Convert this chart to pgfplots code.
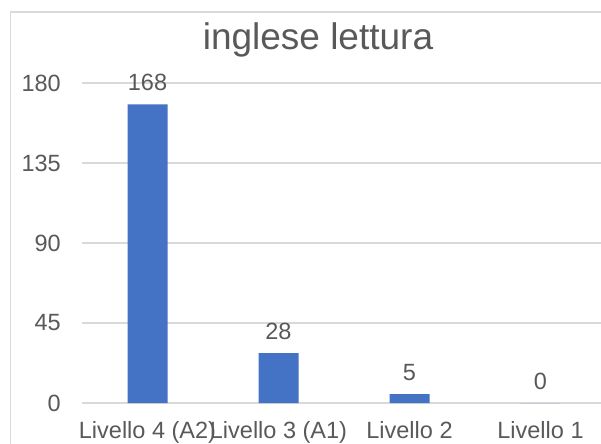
\documentclass[border=0pt]{standalone}
\usepackage{pgfplots}
\pgfplotsset{compat=1.18}
\usepackage{fontspec}
\setmainfont{Liberation Sans}
\definecolor{barblue}{HTML}{4472C4}
\definecolor{txtgray}{HTML}{595959}
\definecolor{gridgray}{HTML}{D9D9D9}
\begin{document}
\begin{tikzpicture}
\useasboundingbox (0bp,0bp) rectangle (601bp,444bp);
\begin{scope}
\clip (0bp,0bp) rectangle (601bp,444bp);
\draw[gridgray, line width=1.5bp] (10.5bp,-20bp) -- (10.5bp,432bp) -- (700bp,432bp);
\begin{axis}[
  at={(82bp,41bp)}, anchor=south west,
  scale only axis, width=524bp, height=320bp,
  xmin=-0.5, xmax=3.5, ymin=0, ymax=180,
  ytick={0,45,90,135,180},
  xtick={0,1,2,3},
  xticklabels={Livello 4 (A2),Livello 3 (A1),Livello 2,Livello 1},
  axis line style={draw=none},
  major tick length=0pt,
  ymajorgrids, major grid style={draw=gridgray, line width=1.2bp},
  /pgf/number format/assume math mode=true,
  ticklabel style={font=\fontsize{23.5bp}{27bp}\selectfont, text=txtgray, inner sep=0pt},
  yticklabel style={xshift=-21bp},
  xticklabel style={anchor=base, yshift=-35bp},
  clip=false,
]
\addplot[ybar, bar width=40bp, fill=barblue, draw=none,
  nodes near coords,
  every node near coord/.append style={font=\fontsize{23.5bp}{27bp}\selectfont, text=txtgray, anchor=base, yshift=13.5bp, inner sep=0pt},
  /pgf/number format/assume math mode=true]
  coordinates {(0,168) (1,28) (2,5) (3,0)};
\end{axis}
\node[text=txtgray, font=\fontsize{37bp}{42bp}\selectfont, anchor=base, inner sep=0pt] at (318bp,394bp) {inglese lettura};
\end{scope}
\end{tikzpicture}
\end{document}
